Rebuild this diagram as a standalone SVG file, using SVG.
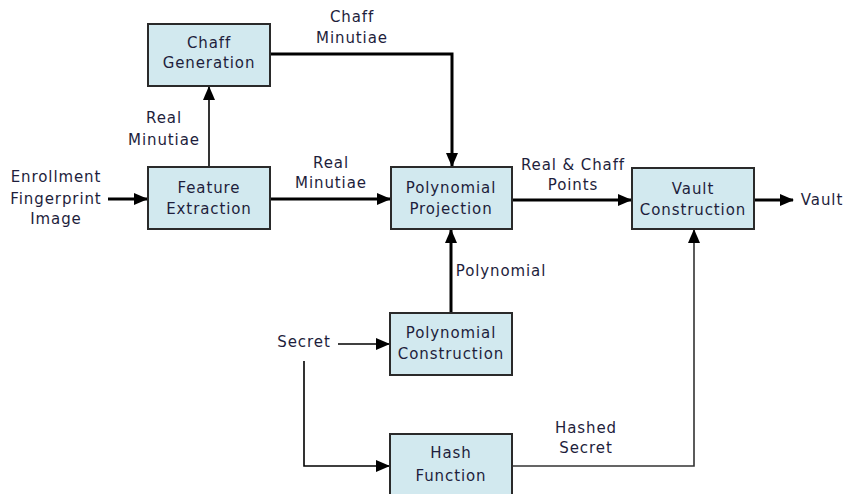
<svg xmlns="http://www.w3.org/2000/svg" width="846" height="494" viewBox="0 0 846 494">
<style>
.box{fill:#d2e9ef;stroke:#2a2a2a;stroke-width:2}
.t{font-family:"DejaVu Sans",Verdana,sans-serif;font-size:15px;letter-spacing:0.9px;fill:#1e1e3c;text-anchor:middle}
.thick{fill:none;stroke:#000;stroke-width:3}
.thin{fill:none;stroke:#000;stroke-width:1.6}
.grey{fill:none;stroke:#333;stroke-width:1.6}
</style>
<defs>
<marker id="a" markerUnits="userSpaceOnUse" markerWidth="14" markerHeight="12" refX="13" refY="6" orient="auto"><path d="M0,0 L14,6 L0,12 Z" fill="#000"/></marker>
</defs>
<rect x="0" y="0" width="846" height="494" fill="#fff"/>
<g id="connectors">
<path class="thick" d="M108,199 L147,199" marker-end="url(#a)"/>
<path class="thin" d="M209,167 L209,87" marker-end="url(#a)"/>
<path class="thick" d="M270,54 L452,54 L452,166" marker-end="url(#a)"/>
<path class="thick" d="M270,199 L390,199" marker-end="url(#a)"/>
<path class="thick" d="M512,200 L631,200" marker-end="url(#a)"/>
<path class="thick" d="M754,200 L793,200" marker-end="url(#a)"/>
<path class="thick" d="M451,313 L451,230" marker-end="url(#a)"/>
<path class="thin" d="M338,344 L389,344" marker-end="url(#a)"/>
<path class="thin" d="M304,361 L304,466 L389,466" marker-end="url(#a)"/>
<path class="grey" d="M512,466 L694,466 L694,230" marker-end="url(#a)"/>
</g>
<g id="chaff-generation"><rect class="box" x="148" y="24" width="122" height="62"/><text class="t" x="209" y="48">Chaff</text><text class="t" x="209" y="68">Generation</text></g>
<g id="feature-extraction"><rect class="box" x="148" y="167" width="122" height="62"/><text class="t" x="209" y="193">Feature</text><text class="t" x="209" y="214">Extraction</text></g>
<g id="polynomial-projection"><rect class="box" x="391" y="167" width="121" height="62"/><text class="t" x="451" y="193">Polynomial</text><text class="t" x="451" y="214">Projection</text></g>
<g id="vault-construction"><rect class="box" x="632" y="168" width="122" height="61"/><text class="t" x="693" y="194">Vault</text><text class="t" x="693" y="215">Construction</text></g>
<g id="polynomial-construction"><rect class="box" x="390" y="313" width="122" height="62"/><text class="t" x="451" y="338">Polynomial</text><text class="t" x="451" y="359">Construction</text></g>
<g id="hash-function"><rect class="box" x="390" y="434" width="122" height="64"/><text class="t" x="451" y="458">Hash</text><text class="t" x="451" y="481">Function</text></g>
<g id="labels">
<text class="t" x="56" y="182">Enrollment</text>
<text class="t" x="56" y="204">Fingerprint</text>
<text class="t" x="56" y="224">Image</text>
<text class="t" x="164" y="123">Real</text>
<text class="t" x="164" y="145">Minutiae</text>
<text class="t" x="352" y="22">Chaff</text>
<text class="t" x="352" y="43">Minutiae</text>
<text class="t" x="331" y="168">Real</text>
<text class="t" x="331" y="188">Minutiae</text>
<text class="t" x="573" y="170">Real &amp; Chaff</text>
<text class="t" x="573" y="190">Points</text>
<text class="t" x="822" y="205">Vault</text>
<text class="t" x="501" y="276">Polynomial</text>
<text class="t" x="304" y="347">Secret</text>
<text class="t" x="586" y="433">Hashed</text>
<text class="t" x="586" y="453">Secret</text>
</g>
</svg>
